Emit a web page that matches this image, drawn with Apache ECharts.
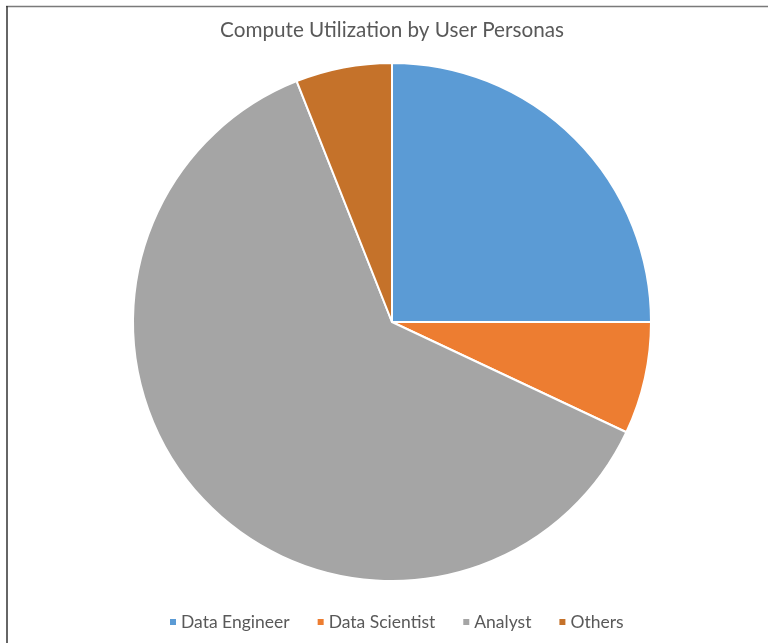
<!DOCTYPE html>
<html>
<head>
<meta charset="utf-8">
<style>
  html, body { margin: 0; padding: 0; background: #fff; }
  #chart { width: 768px; height: 643px; }
</style>
<script src="https://cdn.jsdelivr.net/npm/echarts@6/dist/echarts.min.js"></script>
</head>
<body>
<div id="chart"></div>
<script>
// Share of compute used by each persona (percent)
const personas = ['Data Engineer', 'Data Scientist', 'Analyst', 'Others'];
const shares = [25, 7, 62, 6];
const colors = ['#5B9BD5', '#ED7D31', '#A5A5A5', '#C5722A'];

const chart = echarts.init(document.getElementById('chart'), null, { renderer: 'canvas' });

chart.setOption({
  animation: false,
  backgroundColor: '#ffffff',
  color: colors,
  title: {
    text: 'Compute Utilization by User Personas',
    left: 387,
    textAlign: 'center',
    top: 15,
    textStyle: { fontFamily: 'Lato', fontWeight: 'normal', fontSize: 20.7, color: '#595959' }
  },
  legend: {
    data: personas,
    bottom: 7,
    left: 163,
    itemWidth: 8,
    itemHeight: 8,
    itemGap: 26,
    icon: 'rect',
    textStyle: { fontFamily: 'Lato', fontSize: 17.5, color: '#595959', padding: [0, 0, 0, -1] }
  },
  graphic: [
    { type: 'line', shape: { x1: 6, y1: 6.5, x2: 768, y2: 6.5 }, style: { stroke: '#7a7a7a', lineWidth: 1.5 }, silent: true },
    { type: 'line', shape: { x1: 7, y1: 6, x2: 7, y2: 643 }, style: { stroke: '#333333', lineWidth: 1.5 }, silent: true }
  ],
  series: [{
    type: 'pie',
    center: [392, 322],
    radius: [0, 259],
    startAngle: 90,
    clockwise: true,
    label: { show: false },
    labelLine: { show: false },
    itemStyle: { borderColor: '#ffffff', borderWidth: 2 },
    data: personas.map((name, i) => ({ name, value: shares[i] }))
  }]
});
</script>
</body>
</html>
